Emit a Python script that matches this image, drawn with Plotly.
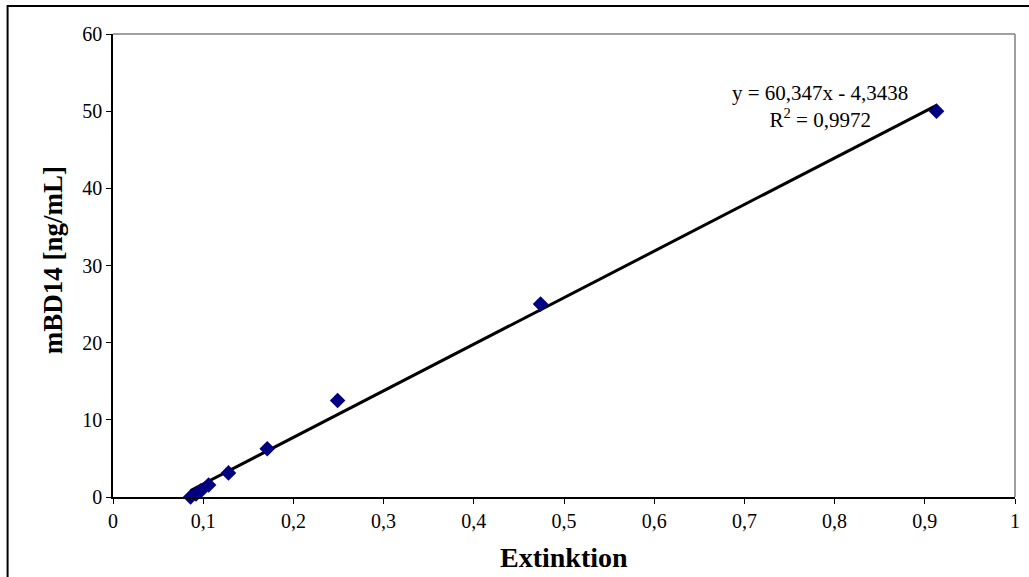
import plotly.graph_objects as go

extinktion = [0.086, 0.092, 0.097, 0.106, 0.128, 0.171, 0.249, 0.474, 0.913]
konz = [0.0, 0.39, 0.78, 1.56, 3.125, 6.25, 12.5, 25.0, 50.0]
slope = 60.347
intercept = -4.3438
r2_text = "0,9972"
x_ticks = [0, 0.1, 0.2, 0.3, 0.4, 0.5, 0.6, 0.7, 0.8, 0.9, 1]
x_tick_labels = ["0", "0,1", "0,2", "0,3", "0,4", "0,5", "0,6", "0,7", "0,8", "0,9", "1"]
y_ticks = [0, 10, 20, 30, 40, 50, 60]

xmin, xmax = min(extinktion), max(extinktion)
trend_x = [xmin, xmax]
trend_y = [slope * v + intercept for v in trend_x]

fig = go.Figure()
fig.add_trace(go.Scatter(x=trend_x, y=trend_y, mode="lines",
                         line=dict(color="black", width=3), showlegend=False))
fig.add_trace(go.Scatter(x=extinktion, y=konz, mode="markers",
                         marker=dict(symbol="diamond", color="#000080", size=12,
                                     line=dict(width=0)),
                         showlegend=False, cliponaxis=False))

font_family = "Liberation Serif, Times New Roman, serif"
L, R, T, B = 113, 1020, 34, 497
W, H = 1029, 577
pw, ph = R - L, B - T
fig.update_layout(
    width=W, height=H,
    margin=dict(l=L, r=W - R, t=T, b=H - B),
    paper_bgcolor="white", plot_bgcolor="white",
    font=dict(family=font_family, size=20, color="black"),
    xaxis=dict(range=[0, 1], tickvals=x_ticks, ticktext=x_tick_labels,
               showgrid=False, zeroline=False, showline=True, linecolor="black", linewidth=1.5,
               ticks="outside", ticklen=5, tickcolor="black", tickwidth=1,
               tickfont=dict(size=20), fixedrange=True),
    yaxis=dict(range=[0, 60], tickvals=y_ticks,
               showgrid=False, zeroline=False, showline=True, linecolor="black", linewidth=1.5,
               ticks="outside", ticklen=5, tickcolor="black", tickwidth=1,
               tickfont=dict(size=20), fixedrange=True),
    showlegend=False,
)

# plot-area border (top and right, grey)
fig.add_shape(type="line", xref="paper", yref="paper", x0=0, x1=1, y0=1, y1=1,
              line=dict(color="#808080", width=1.5))
fig.add_shape(type="line", xref="paper", yref="paper", x0=1, x1=1, y0=0, y1=1,
              line=dict(color="#808080", width=1.5))

# outer chart border
fig.add_shape(type="rect", xref="paper", yref="paper",
              x0=(7 - L) / pw, x1=(1040 - L) / pw,
              y0=(B - 590) / ph, y1=(B - 6) / ph,
              line=dict(color="black", width=2), fillcolor="rgba(0,0,0,0)", layer="below")

# axis titles
fig.add_annotation(xref="paper", yref="paper", x=0.5, y=(B - 557) / ph,
                   text="<b>Extinktion</b>", showarrow=False,
                   xanchor="center", yanchor="middle",
                   font=dict(size=28, family=font_family, color="black"))
fig.add_annotation(xref="paper", yref="paper", x=(53 - L) / pw, y=(B - 260) / ph,
                   text="<b>mBD14 [ng/mL]</b>", showarrow=False, textangle=-90,
                   xanchor="center", yanchor="middle",
                   font=dict(size=27, family=font_family, color="black"))

# trendline equation
fig.add_annotation(xref="paper", yref="paper",
                   x=(824 - L) / pw, y=(B - 106) / ph,
                   text="y = 60,347x - 4,3438<br>R<sup>2</sup> = " + r2_text,
                   showarrow=False, align="center", xanchor="center", yanchor="middle",
                   font=dict(size=21, family=font_family, color="black"))

fig.write_html("out.html", config={"displayModeBar": False},
               post_script="document.body.style.margin='0px';document.body.style.padding='0px';")
